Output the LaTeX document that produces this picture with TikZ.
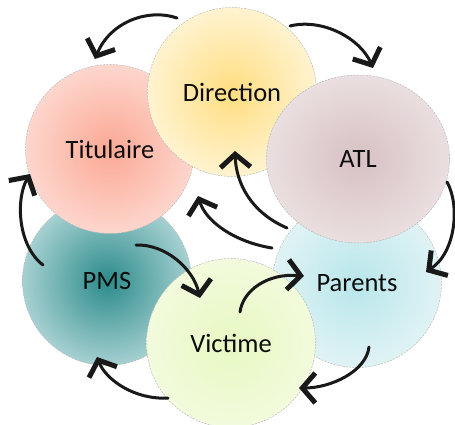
\documentclass[tikz,border=0pt]{standalone}
\usepackage{fontspec}
\setmainfont{Carlito}
\usetikzlibrary{arrows.meta,shapes.geometric}
\definecolor{dirIn}{HTML}{FFDD80}
\definecolor{dirOut}{HTML}{FFF3D0}
\definecolor{titIn}{HTML}{FBA894}
\definecolor{titOut}{HTML}{FDD6CD}
\definecolor{atlIn}{HTML}{D7C0C3}
\definecolor{atlOut}{HTML}{EADFE0}
\definecolor{pmsIn}{HTML}{2C8B8B}
\definecolor{pmsOut}{HTML}{A6D0D1}
\definecolor{parIn}{HTML}{B8E6EA}
\definecolor{parOut}{HTML}{E0F3F5}
\definecolor{vicIn}{HTML}{E7F8C2}
\definecolor{vicOut}{HTML}{F2FBDD}
\begin{document}
\begin{tikzpicture}[x=1pt,y=-1pt,
  bubble/.style={circle, minimum size=169pt, inner sep=0pt,
    draw=black!28, dash pattern=on 2pt off 1.2pt, line width=0.5pt,
    shading=radial, font=\fontsize{26.5}{31}\selectfont, text=black!95},
  flow/.style={line width=3pt, line cap=round, black!90,
    -{Straight Barb[length=13pt,width=30pt,line width=5pt]}}]
\useasboundingbox (0,0) rectangle (455,425);
% bubbles (drawing order gives the overlaps)
\node[bubble, inner color=pmsIn, outer color=pmsOut] (pms) at (107,281) {PMS};
\node[bubble, inner color=parIn, outer color=parOut] (par) at (357,283) {Parents};
\node[bubble, inner color=titIn, outer color=titOut] (tit) at (110,149) {Titulaire};
\node[bubble, inner color=dirIn, outer color=dirOut] (dir) at (232,92) {Direction};
\node[bubble, ellipse, minimum width=183pt, minimum height=168pt,
      inner color=atlIn, outer color=atlOut] (atl) at (358,159) {ATL};
\node[bubble, inner color=vicIn, outer color=vicOut] (vic) at (231,343) {Victime};
% connector end points
\coordinate (dt1) at (177,18);  \coordinate (dt2) at (95,59);
\coordinate (da1) at (290,26);  \coordinate (da2) at (373,68);
\coordinate (ap1) at (447,182); \coordinate (ap2) at (426,272);
\coordinate (pv1) at (369,347); \coordinate (pv2) at (299,388);
\coordinate (vp1) at (168,398); \coordinate (vp2) at (97,357);
\coordinate (pt1) at (43,265);  \coordinate (pt2) at (30,174);
\coordinate (pm1) at (136,245); \coordinate (pm2) at (200,298);
\coordinate (vr1) at (240,312); \coordinate (vr2) at (304,276);
\coordinate (rt1) at (272,248); \coordinate (rt2) at (198,196);
\coordinate (rd1) at (287,228); \coordinate (rd2) at (235,151);
% connectors
\draw[flow] (dt1) .. controls (148,8) and (110,22) .. (dt2);
\draw[flow] (da1) .. controls (322,18) and (360,38) .. (da2);
\draw[flow] (ap1) .. controls (460,205) and (456,252) .. (ap2);
\draw[flow] (pv1) .. controls (366,372) and (330,388) .. (pv2);
\draw[flow] (vp1) .. controls (135,400) and (106,380) .. (vp2);
\draw[flow] (pt1) .. controls (17,245) and (16,198) .. (pt2);
\draw[flow] (pm1) .. controls (165,244) and (193,268) .. (pm2);
\draw[flow] (vr1) .. controls (243,290) and (268,273) .. (vr2);
\draw[flow] (rt1) .. controls (235,242) and (206,222) .. (rt2);
\draw[flow] (rd1) .. controls (250,212) and (236,182) .. (rd2);
\end{tikzpicture}
\end{document}
